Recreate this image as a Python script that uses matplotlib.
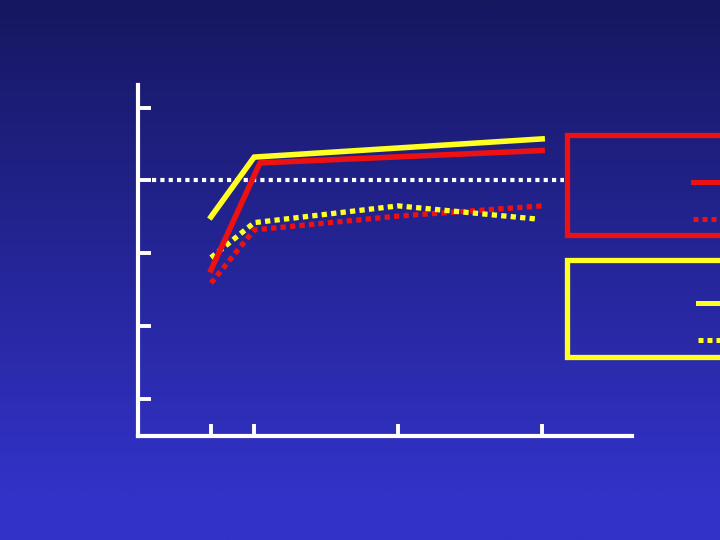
import matplotlib
matplotlib.use("Agg")
import matplotlib.pyplot as plt
import numpy as np
from matplotlib.lines import Line2D

# x positions (weeks), y values in tick units
x_ticks = [0, 3, 13, 23]
y_ticks = [1, 2, 3, 4, 5]
ref_level = 4.0

yellow_solid_x = [0, 3, 23]
yellow_solid_y = [3.50, 4.32, 4.57]
red_solid_x = [0, 3.4, 23]
red_solid_y = [2.77, 4.24, 4.41]
yellow_dot_x = [0, 3, 13, 22.6]
yellow_dot_y = [2.94, 3.42, 3.65, 3.47]
red_dot_x = [0, 3, 13, 23]
red_dot_y = [2.59, 3.32, 3.51, 3.65]

W, H = 720, 540
fig = plt.figure(figsize=(7.2, 5.4), dpi=100)

# gradient background
bg = fig.add_axes([0, 0, 1, 1], zorder=0)
top = np.array([22, 23, 96]) / 255
bot = np.array([50, 50, 200]) / 255
t = np.clip(np.linspace(0, 1, 256) * 1.1, 0, 1)[:, None]
grad = top + (bot - top) * t
bg.imshow(grad[:, None, :], aspect="auto", extent=[0, 1, 0, 1])
bg.set_axis_off()

ax = fig.add_axes([138 / W, 1 - 436 / H, (632 - 138) / W, (436 - 85) / H], zorder=2)
ax.patch.set_alpha(0)
ax.set_xlim(-5.07, 29.24)
ax.set_ylim(0.49, 5.31)
for s in ["top", "right"]:
    ax.spines[s].set_visible(False)
for s in ["left", "bottom"]:
    ax.spines[s].set_color("white")
    ax.spines[s].set_linewidth(3)
ax.set_xticks(x_ticks)
ax.set_yticks(y_ticks)
ax.tick_params(direction="in", length=9, width=2.8, colors="white",
               labelleft=False, labelbottom=False)

dot = dict(linestyle=(0, (1, 0.8)), dash_capstyle="butt", lw=3.8)
ax.plot([-4.1, 24.5], [ref_level, ref_level], color="white",
        linestyle=(0, (1, 1)), lw=3, dash_capstyle="butt")
ax.plot(red_dot_x, red_dot_y, color="#ee1111", **dot)
ax.plot(yellow_dot_x, yellow_dot_y, color="#ffff22", **dot)
ax.plot(red_solid_x, red_solid_y, color="#ee1111", lw=4, solid_joinstyle="miter")
ax.plot(yellow_solid_x, yellow_solid_y, color="#ffff22", lw=4, solid_joinstyle="miter")


# legend boxes (cut off at the right edge)
def fy(p):
    return 1 - p / H


for color, y0, y1 in [("#ee1111", 134.5, 234.5), ("#ffff22", 260, 357)]:
    xs = [1.05, 566.5 / W, 566.5 / W, 1.05]
    ys = [fy(y0), fy(y0), fy(y1), fy(y1)]
    fig.lines.append(Line2D(xs, ys, color=color, lw=3.8, solid_joinstyle="miter",
                            transform=fig.transFigure, zorder=3))

for color, yp, x0, ls in [("#ee1111", 182, 693, "-"), ("#ee1111", 219, 693, ":"),
                          ("#ffff22", 303, 698, "-"), ("#ffff22", 340, 698, ":")]:
    kw = dict(lw=3.6, color=color, transform=fig.transFigure, zorder=3)
    if ls == ":":
        kw.update(linestyle=(0, (1, 0.8)), dash_capstyle="butt")
    fig.lines.append(Line2D([x0 / W, 1.05], [fy(yp), fy(yp)], **kw))

fig.savefig("out.png", dpi=100)
